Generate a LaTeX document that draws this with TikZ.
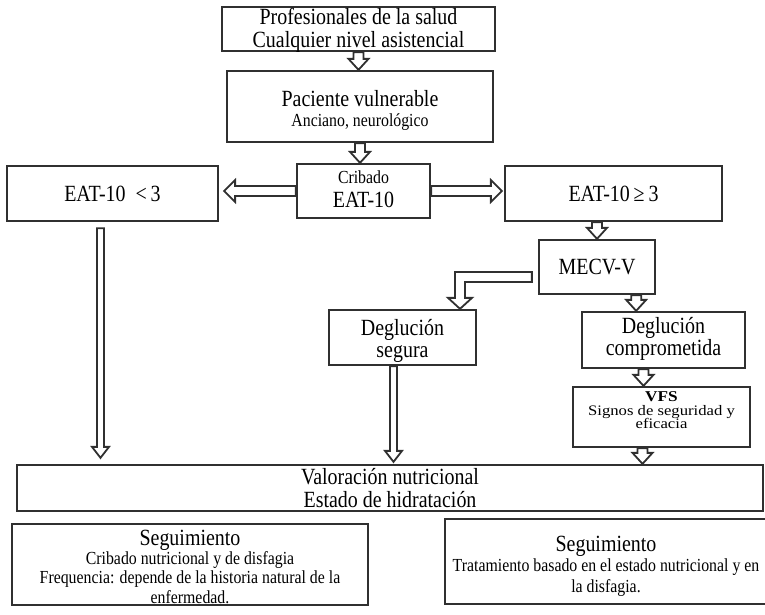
\documentclass[tikz,border=0pt]{standalone}
\usepackage{fontspec}
\setmainfont{Liberation Serif}[FakeStretch=0.86]
\newfontfamily\widefont{Liberation Serif}[FakeStretch=1.15]
\usetikzlibrary{calc,positioning}
\definecolor{edgegray}{HTML}{303030}
\newcommand{\bigsz}{\fontsize{23.2}{23}\selectfont}
\newcommand{\smallsz}{\fontsize{18.4}{19.5}\selectfont}
\newcommand{\vfssz}{\widefont\fontsize{14.5}{13.5}\selectfont}
\lineskiplimit=-30pt
% hollow block arrows: [half shaft] {from} {to}
\newcommand{\vfat}[3][5]{%
  \draw[fat] let \p1=(#2), \p2=(#3) in
    (\x1-#1,\y1) -- (\x1-#1,\y2+11) -- (\x1-#1-5,\y2+11) -- (\x1,\y2)
    -- (\x1+#1+5,\y2+11) -- (\x1+#1,\y2+11) -- (\x1+#1,\y1) -- cycle;}
\newcommand{\hfat}[2]{%
  \draw[fat] let \p1=(#1), \p2=(#2), \p3=($(#2)!11pt!(#1)$) in
    (\x1,\y1+5) -- (\x3,\y1+5) -- (\x3,\y1+11) -- (\x2,\y1)
    -- (\x3,\y1-11) -- (\x3,\y1-5) -- (\x1,\y1-5) -- cycle;}
\begin{document}
\begin{tikzpicture}[x=1pt, y=-1pt, font=\bigsz,
    box/.style={draw=edgegray, line width=2.3pt, align=center, inner sep=0pt},
    fat/.style={draw=edgegray, line width=1.8pt, fill=white, line join=miter}]
\useasboundingbox (0,0) rectangle (765,614);
\clip (0,0) rectangle (765,614);

\node[box, minimum width=273pt, minimum height=44pt, text height=40pt, text depth=4pt]
  (prof) at (358.5,29) {Profesionales de la salud\\Cualquier nivel asistencial};
\node[box, minimum width=266pt, minimum height=71pt, text height=55pt, text depth=16pt,
  font=\smallsz] (pac) at (360,106.5) {{\bigsz Paciente vulnerable}\\Anciano, neurológico};
\node[box, minimum width=211pt, minimum height=55pt] (low) at (112.5,193.5) {EAT-10\ \ <\,3};
\node[box, minimum width=133pt, minimum height=54pt, text height=43pt, text depth=11pt]
  (crib) at (363.5,191) {{\smallsz Cribado}\\[1pt]EAT-10};
\node[box, minimum width=217pt, minimum height=55pt] (high) at (613.5,193.5) {EAT-10\,≥\,3};
\node[box, minimum width=116pt, minimum height=54pt] (mecv) at (597,267) {MECV-V};
\node[box, minimum width=147pt, minimum height=55pt, text height=47pt, text depth=8pt]
  (segura) at (402.5,337.5) {Deglución\\[-1pt]segura};
\node[box, minimum width=163pt, minimum height=56pt, text height=43pt, text depth=13pt]
  (compr) at (663.5,340) {Deglución\\[-1pt]comprometida};
\node[box, minimum width=177pt, minimum height=60pt, text height=41pt, text depth=19pt,
  font=\vfssz] (vfs) at (661.5,417)
  {{\fontsize{15}{13}\selectfont\bfseries VFS}\\Signos de seguridad y\\[-0.5pt]eficacia};
\node[box, minimum width=746pt, minimum height=46pt, text height=42pt, text depth=4pt]
  (valor) at (390,488) {Valoración nutricional\\Estado de hidratación};
\node[box, minimum width=356pt, minimum height=81pt, text height=79pt, text depth=2pt,
  font=\smallsz] (seg1) at (190,564.5)
  {{\bigsz Seguimiento}\\[-1pt]Cribado nutricional y de disfagia\\
   Frequencia: depende de la historia natural de la\\enfermedad.};
\node[box, draw=none, minimum width=320pt, minimum height=83pt, text height=72pt,
  text depth=11pt, font=\smallsz] (seg2) at (606,561.5)
  {{\bigsz Seguimiento}\\[1pt]Tratamiento basado en el estado nutricional y en\\[1pt]la disfagia.};
\draw[edgegray, line width=2.3pt] (seg2.north west) rectangle ($(seg2.south east)+(25,0)$);

% arrows
\vfat{prof.south}{pac.north}
\vfat{pac.south}{crib.north}
\hfat{crib.west}{$(low.east)+(5,0)$}
\hfat{crib.east}{$(high.west)+(-2,0)$}
\vfat{high.south -| mecv.north}{mecv.north}
\vfat{$(mecv.south east)+(-20,0)$}{compr.north}
\vfat{$(compr.south)+(-20,0)$}{vfs.north}
\vfat{$(vfs.south)+(-19,0)$}{valor.north}
\vfat[3.5]{$(low.south)+(-12,6)$}{$(valor.north)+(0,-6)$}
\vfat[3.5]{$(segura.south)+(-9,0)$}{$(valor.north)+(0,-2)$}
\draw[fat] let \p1=($(mecv.west)+(-6,10)$), \p2=($(segura.north)+(57.5,0)$) in
  (\x1,\y1+5) -- (\x2-5,\y1+5) -- (\x2-5,\y2+11) -- (\x2-12,\y2+11) -- (\x2,\y2)
  -- (\x2+12,\y2+11) -- (\x2+5,\y2+11) -- (\x2+5,\y1-5) -- (\x1,\y1-5) -- cycle;
\end{tikzpicture}
\end{document}
